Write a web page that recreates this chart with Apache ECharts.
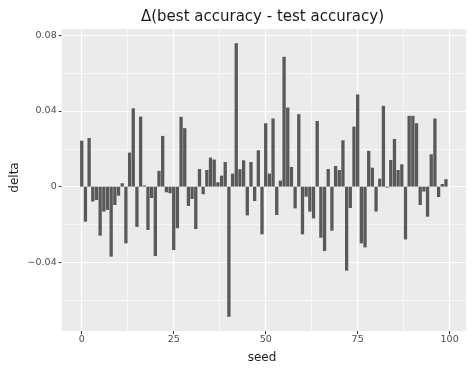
<!DOCTYPE html>
<html>
<head>
<meta charset="utf-8">
<script src="https://cdn.jsdelivr.net/npm/echarts@6/dist/echarts.min.js"></script>
<style>html,body{margin:0;padding:0;background:#fff}#c{width:474px;height:371px}</style>
</head>
<body>
<div id="c"></div>
<script>
const seeds = Array.from({length: 100}, (_, i) => i);
const delta = [
  0.0243, -0.0185, 0.0257, -0.0079, -0.0071, -0.0259, -0.0132, -0.0123, -0.0370, -0.0097,
  -0.0048, 0.0018, -0.0300, 0.0180, 0.0414, -0.0213, 0.0370, 0.0006, -0.0229, -0.0060,
  -0.0367, 0.0083, 0.0268, -0.0030, -0.0035, -0.0335, -0.0220, 0.0369, 0.0309, -0.0102,
  -0.0065, -0.0224, 0.0093, -0.0040, 0.0088, 0.0153, 0.0143, 0.0023, 0.0058, 0.0130,
  -0.0688, 0.0069, 0.0758, 0.0092, 0.0139, -0.0152, 0.0130, -0.0076, 0.0192, -0.0252,
  0.0335, 0.0069, 0.0360, -0.0150, 0.0032, 0.0686, 0.0418, 0.0104, -0.0115, 0.0383,
  -0.0252, -0.0053, -0.0132, -0.0168, 0.0347, -0.0270, -0.0340, 0.0093, -0.0233, 0.0109,
  0.0088, 0.0245, -0.0444, -0.0113, 0.0317, 0.0487, -0.0300, -0.0321, 0.0189, 0.0100,
  -0.0132, 0.0042, 0.0427, -0.0005, 0.0141, 0.0252, 0.0088, 0.0118, -0.0279, 0.0374,
  0.0374, 0.0335, -0.0097, -0.0026, -0.0159, 0.0171, 0.0360, -0.0055, 0.0014, 0.0039
];
const xTicks = [0, 25, 50, 75, 100];
const xMinor = [12.5, 37.5, 62.5, 87.5];
const yTicks = [-0.04, 0, 0.04, 0.08];
const yMinor = [-0.06, -0.02, 0.02, 0.06];

const chart = echarts.init(document.getElementById('c'), null, {renderer: 'canvas'});
const fontFamily = 'DejaVu Sans';
const fmtY = v => {
  const s = (Math.abs(v) < 1e-9) ? '0' : Math.abs(v).toFixed(2);
  return (v < -1e-9 ? '\u2212' : '') + s;
};
const gridLines = [];
xMinor.forEach(v => gridLines.push({xAxis: v, lineStyle: {width: 0.6}}));
yMinor.forEach(v => gridLines.push({yAxis: v, lineStyle: {width: 0.6}}));
xTicks.forEach(v => gridLines.push({xAxis: v, lineStyle: {width: 1.2}}));
yTicks.forEach(v => gridLines.push({yAxis: v, lineStyle: {width: 1.2}}));

chart.setOption({
  animation: false,
  backgroundColor: '#ffffff',
  title: [{
    text: '\u0394(best accuracy - test accuracy)',
    left: 257.5, top: 5, textAlign: 'center',
    textStyle: {fontFamily, fontSize: 15, fontWeight: 'normal', color: '#1a1a1a'}
  }, {
    text: 'seed',
    left: 257, top: 347, textAlign: 'center',
    textStyle: {fontFamily, fontSize: 12, fontWeight: 'normal', color: '#1a1a1a'}
  }],
  graphic: [{
    type: 'text', x: 14.5, y: 177.5, rotation: Math.PI / 2,
    style: {text: 'delta', font: '12px "DejaVu Sans"', fill: '#1a1a1a', align: 'center', verticalAlign: 'middle'}
  }],
  grid: {left: 61.7, right: 8, top: 29, bottom: 40, show: true, backgroundColor: '#EBEBEB', borderWidth: 0},
  xAxis: {
    type: 'value', min: -5.45, max: 104.45,
    axisLine: {show: true, onZero: false, lineStyle: {color: 'rgba(0,0,0,0)'}},
    splitLine: {show: false},
    axisTick: {show: true, customValues: xTicks, length: 3, lineStyle: {color: '#333333', width: 1}},
    axisLabel: {customValues: xTicks, fontFamily, fontSize: 9.5, color: '#4D4D4D', margin: 4,
      showMinLabel: true, showMaxLabel: true}
  },
  yAxis: {
    type: 'value', min: -0.0763, max: 0.0833,
    axisLine: {show: true, onZero: false, lineStyle: {color: 'rgba(0,0,0,0)'}},
    splitLine: {show: false},
    axisTick: {show: true, customValues: yTicks, length: 3, lineStyle: {color: '#333333', width: 1}},
    axisLabel: {customValues: yTicks, fontFamily, fontSize: 9.5, color: '#4D4D4D', margin: 5,
      formatter: fmtY, showMinLabel: true, showMaxLabel: true}
  },
  series: [{
    type: 'line', data: [], z: 1, silent: true,
    markLine: {silent: true, z: 1, symbol: 'none', label: {show: false}, animation: false,
      lineStyle: {color: '#ffffff', type: 'solid'}, data: gridLines}
  }, {
    type: 'bar', z: 3, barWidth: 3.3,
    itemStyle: {color: '#595959'},
    data: seeds.map((s, i) => [s, delta[i]])
  }]
});
</script>
</body>
</html>
